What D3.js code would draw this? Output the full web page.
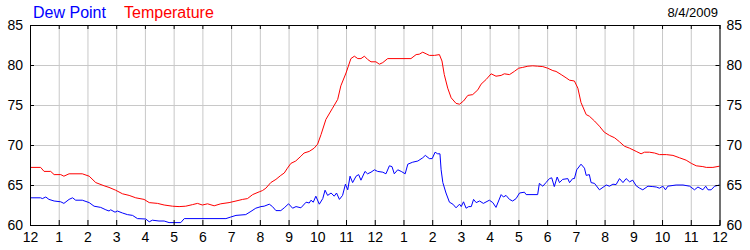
<!DOCTYPE html>
<html>
<head>
<meta charset="utf-8">
<script src="https://cdn.jsdelivr.net/npm/d3@7"></script>
<style>
  body { margin: 0; background: #fff; }
  svg text { font-family: "Liberation Sans", Arial, sans-serif; }
</style>
</head>
<body>
<div id="chart"></div>
<script>
// hours since midnight
var tempHours = [0, 0.37, 0.49, 0.72, 0.84, 1.07, 1.18, 1.36, 1.82, 2.06, 2.29, 2.58, 2.75, 2.98,
  3.22, 3.45, 3.68, 3.97, 4.15, 4.44, 4.67, 4.96, 5.19, 5.42, 5.66, 5.83, 6.0, 6.18, 6.41, 6.64,
  6.93, 7.17, 7.4, 7.57, 7.75, 7.98, 8.09, 8.21, 8.38, 8.56, 8.73, 8.85, 8.96, 9.08, 9.25, 9.43,
  9.54, 9.72, 9.89, 10.01, 10.13, 10.3, 10.53, 10.71, 10.82, 11.0, 11.17, 11.29, 11.41, 11.52,
  11.64, 11.75, 11.87, 12.04, 12.16, 12.28, 12.45, 13.26, 13.44, 13.55, 13.67, 13.79, 13.9,
  14.08, 14.25, 14.34, 14.42, 14.54, 14.66, 14.83, 14.95, 15.09, 15.24, 15.41, 15.59, 15.7,
  15.88, 16.05, 16.22, 16.4, 16.51, 16.69, 16.86, 17.01, 17.15, 17.33, 17.5, 17.67, 17.85,
  18.02, 18.2, 18.31, 18.49, 18.66, 18.78, 18.95, 19.07, 19.18, 19.36, 19.47, 19.65, 19.82,
  19.99, 20.17, 20.35, 20.52, 20.69, 20.87, 21.1, 21.27, 21.39, 21.56, 21.74, 21.91, 22.15,
  22.38, 22.61, 22.84, 23.02, 23.19, 23.42, 23.54, 23.77, 24.0];
var tempValues = [67.2, 67.2, 66.7, 66.7, 66.3, 66.3, 66.1, 66.4, 66.4, 66.1, 65.3, 64.9, 64.7, 64.35,
  63.9, 63.7, 63.4, 63.2, 62.8, 62.7, 62.5, 62.35, 62.3, 62.35, 62.55, 62.7, 62.5, 62.65, 62.4, 62.65,
  62.8, 63.0, 63.2, 63.3, 63.8, 64.15, 64.3, 64.6, 65.3, 65.7, 66.2, 66.5, 67.1, 67.7, 68.0, 68.6,
  69.0, 69.2, 69.6, 70.1, 71.3, 73.2, 74.6, 75.7, 77.4, 79.0, 80.8, 81.1, 80.8, 80.8,
  81.1, 80.7, 80.4, 80.4, 80.1, 80.3, 80.8, 80.8, 81.3, 81.35, 81.6, 81.4, 81.2,
  81.2, 81.3, 80.5, 78.8, 77.1, 75.9, 75.2, 75.1, 75.5, 76.2, 76.3, 76.9, 77.6,
  78.2, 78.9, 78.6, 78.7, 78.9, 78.8, 79.2, 79.6, 79.7, 79.85, 79.9, 79.85, 79.8,
  79.6, 79.3, 79.2, 78.8, 78.4, 78.1, 78.0, 77.1, 75.3, 73.8, 73.6, 73.0, 72.35,
  71.6, 71.2, 70.9, 70.4, 69.85, 69.6, 69.2, 68.9, 69.1, 69.1, 69.0, 68.8, 68.8,
  68.7, 68.4, 68.1, 67.7, 67.4, 67.3, 67.2, 67.2, 67.35];

var dewHours = [0, 0.37, 0.43, 0.55, 0.66, 0.84, 1.07, 1.18, 1.36, 1.48, 1.59, 1.82, 2.06, 2.23,
  2.46, 2.64, 2.75, 2.81, 2.96, 3.04, 3.22, 3.39, 3.57, 3.74, 4.03, 4.15, 4.26, 4.49, 4.67, 4.84,
  5.25, 5.37, 6.82, 6.99, 7.17, 7.51, 7.69, 7.86, 8.04, 8.15, 8.33, 8.44, 8.56, 8.73, 8.85, 9.0,
  9.14, 9.26, 9.43, 9.61, 9.72, 9.78, 9.86, 9.95, 10.07, 10.19, 10.27, 10.36, 10.48, 10.59, 10.67,
  10.77, 10.88, 10.98, 11.06, 11.14, 11.23, 11.35, 11.44, 11.52, 11.66, 11.75, 11.87, 11.99, 12.1,
  12.28, 12.39, 12.51, 12.6, 12.68, 12.8, 12.92, 13.06, 13.15, 13.32, 13.5, 13.67, 13.76, 13.9,
  14.0, 14.1, 14.19, 14.27, 14.31, 14.37, 14.48, 14.6, 14.72, 14.83, 14.95, 15.01, 15.09, 15.18,
  15.27, 15.36, 15.44, 15.53, 15.65, 15.78, 15.99, 16.11, 16.22, 16.4, 16.48, 16.57, 16.69, 16.8,
  16.92, 17.04, 17.21, 17.27, 17.67, 17.73, 17.85, 17.96, 18.08, 18.16, 18.25, 18.35, 18.43, 18.54,
  18.72, 18.78, 18.89, 18.95, 19.03, 19.18, 19.3, 19.36, 19.47, 19.53, 19.65, 19.82, 20.06, 20.17,
  20.29, 20.4, 20.52, 20.64, 20.75, 20.87, 20.98, 21.1, 21.22, 21.33, 21.51, 21.68, 21.8, 21.91,
  22.03, 22.12, 22.2, 22.49, 22.73, 22.96, 23.13, 23.25, 23.42, 23.52, 23.6, 23.71, 23.83, 24.0];
var dewValues = [63.4, 63.4, 63.3, 63.5, 63.2, 63.0, 62.9, 62.7, 63.2, 63.4, 63.1, 63.1, 62.8, 62.35,
  62.2, 61.9, 61.75, 61.9, 61.6, 61.75, 61.5, 61.3, 61.2, 60.8, 60.75, 60.4, 60.6, 60.5, 60.5, 60.3,
  60.3, 60.8, 60.8, 61.0, 61.2, 61.3, 61.7, 62.1, 62.3, 62.35, 62.6, 62.3, 61.8, 61.8, 62.15, 62.65,
  62.1, 62.3, 62.15, 62.85, 62.75, 63.1, 62.85, 63.6, 62.6, 63.3, 64.35, 63.7, 64.0, 63.6, 64.0,
  63.2, 63.7, 65.1, 64.4, 66.1, 65.3, 66.1, 66.3, 65.6, 66.7, 66.4, 66.6, 66.9, 66.7,
  66.6, 66.4, 67.4, 67.3, 66.4, 66.9, 66.7, 66.4, 67.6, 67.85, 68.0, 68.4, 68.7, 68.3,
  68.3, 69.1, 68.9, 68.9, 66.9, 65.3, 64.0, 62.85, 62.6, 62.15, 62.6, 62.3, 62.9, 62.1,
  62.3, 62.3, 63.2, 62.8, 63.0, 62.7, 63.1, 62.8, 62.2, 63.8, 63.5, 63.7, 63.2, 63.0,
  63.3, 64.0, 64.1, 63.8, 63.8, 65.2, 64.85, 65.3, 65.8, 65.9, 64.8, 66.0, 65.3, 65.7,
  65.8, 65.3, 65.8, 65.8, 66.9, 67.6, 67.1, 66.2, 66.3, 65.3, 65.2, 64.4, 65.0, 64.85,
  65.1, 65.05, 65.8, 65.3, 65.8, 65.4, 65.6, 64.9, 64.6, 64.4, 64.85, 64.8, 64.75, 64.6,
  64.85, 64.4, 64.85, 65.0, 65.0, 64.85, 64.4, 64.75, 64.4, 64.85, 64.4, 64.4, 64.85, 65.0];

var hourTicks = d3.range(0, 25);
var tempTicks = [60, 65, 70, 75, 80, 85];
var seriesNames = ['Dew Point', 'Temperature'];
var dateLabel = '8/4/2009';

var drawChart = function() {
    var width = 750, height = 250;
    var plotLeft = 30, plotRight = 719.5, plotTop = 25, plotBottom = 225;

    var svg = d3.select('#chart').append('svg')
        .attr('width', width)
        .attr('height', height);

    var x = d3.scaleLinear().domain([0, 24]).range([plotLeft, plotRight]);
    var y = d3.scaleLinear().domain([60, 85]).range([plotBottom, plotTop]);

    // grid
    var grayLines = function(g) {
        g.select('.domain').remove();
        g.selectAll('line').attr('stroke', '#c8c8c8');
    };
    svg.append('g')
        .attr('transform', 'translate(0,' + plotBottom + ')')
        .call(d3.axisBottom(x).tickValues(hourTicks).tickSize(-(plotBottom - plotTop)).tickFormat(''))
        .call(grayLines);
    svg.append('g')
        .attr('transform', 'translate(' + plotLeft + ',0)')
        .call(d3.axisLeft(y).tickValues(tempTicks).tickSize(-(plotRight - plotLeft)).tickFormat(''))
        .call(grayLines);

    // lines
    var tempLine = d3.line()
        .x(function(d, i) { return x(tempHours[i]); })
        .y(function(d) { return y(d); });
    var dewLine = d3.line()
        .x(function(d, i) { return x(dewHours[i]); })
        .y(function(d) { return y(d); });

    svg.append('path').datum(dewValues)
        .attr('fill', 'none').attr('stroke', '#0000ff').attr('stroke-width', 1)
        .attr('d', dewLine);
    svg.append('path').datum(tempValues)
        .attr('fill', 'none').attr('stroke', '#ff0000').attr('stroke-width', 1)
        .attr('d', tempLine);

    // axes, ticks point inward
    var fmtHour = function(h) { return (h % 12) || 12; };
    var styleAxis = function(g) {
        g.select('.domain').remove();
        g.selectAll('line').attr('stroke', '#000');
        g.selectAll('text').attr('fill', '#000').style('font-size', '14px');
    };

    svg.append('g')
        .attr('transform', 'translate(0,' + plotBottom + ')')
        .call(d3.axisBottom(x).tickValues(hourTicks).tickSizeInner(-5).tickSizeOuter(0)
            .tickPadding(7).tickFormat(fmtHour))
        .call(styleAxis);
    svg.append('g')
        .attr('transform', 'translate(0,' + plotTop + ')')
        .call(d3.axisTop(x).tickValues(hourTicks).tickSizeInner(-4).tickSizeOuter(0).tickFormat(''))
        .call(styleAxis);
    svg.append('g')
        .attr('transform', 'translate(' + plotLeft + ',0)')
        .call(d3.axisLeft(y).tickValues(tempTicks).tickSizeInner(-4).tickSizeOuter(0).tickPadding(7))
        .call(styleAxis);
    svg.append('g')
        .attr('transform', 'translate(' + plotRight + ',0)')
        .call(d3.axisRight(y).tickValues(tempTicks).tickSizeInner(-4).tickSizeOuter(0).tickPadding(7))
        .call(styleAxis);

    // frame
    svg.append('rect')
        .attr('x', plotLeft + 0.5).attr('y', plotTop + 0.5)
        .attr('width', plotRight - plotLeft).attr('height', plotBottom - plotTop)
        .attr('fill', 'none').attr('stroke', '#000');

    // legend + date
    svg.append('text').attr('x', 33).attr('y', 18)
        .attr('fill', '#0000ff').style('font-size', '16px').text(seriesNames[0]);
    svg.append('text').attr('x', 124).attr('y', 18)
        .attr('fill', '#ff0000').style('font-size', '16px').text(seriesNames[1]);
    svg.append('text').attr('x', 718).attr('y', 17).attr('text-anchor', 'end')
        .attr('fill', '#000').style('font-size', '13px').text(dateLabel);
};

drawChart();
</script>
</body>
</html>
